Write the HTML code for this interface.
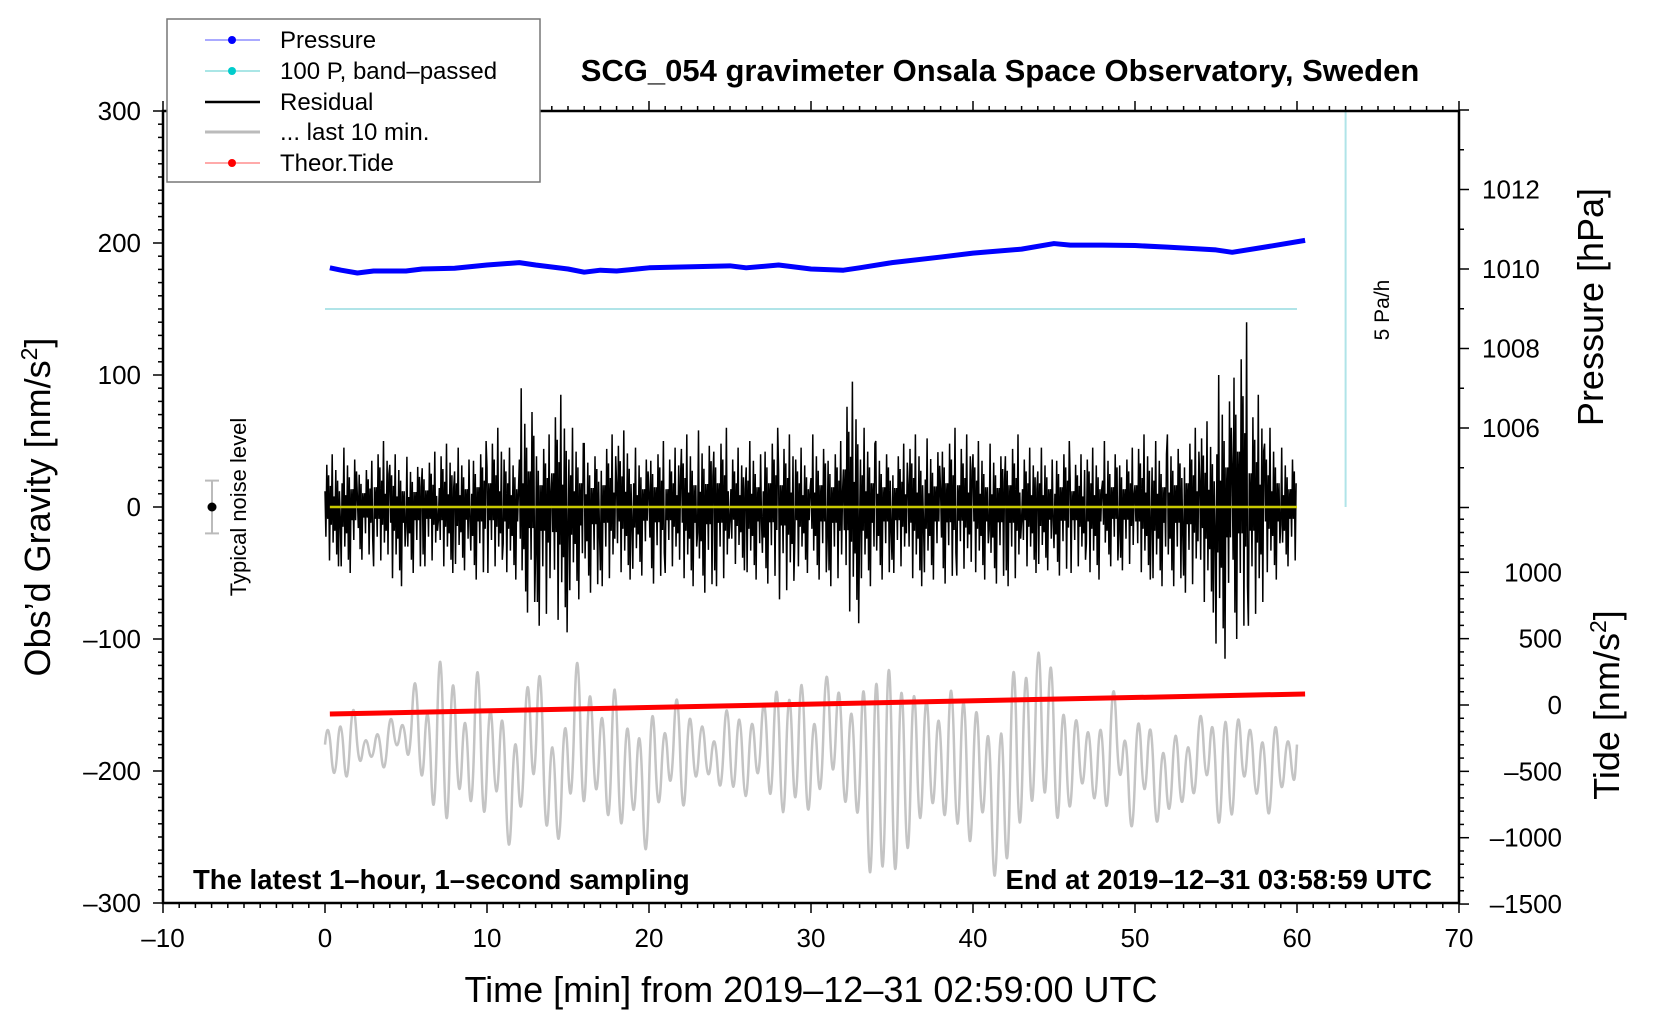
<!DOCTYPE html>
<html><head><meta charset="utf-8">
<style>
html,body{margin:0;padding:0;background:#fff;}
svg{display:block;font-family:"Liberation Sans",sans-serif;}
</style></head>
<body>
<svg id="chart" width="1660" height="1020" viewBox="0 0 1660 1020" xmlns="http://www.w3.org/2000/svg">
<defs><clipPath id="plotclip"><rect x="163" y="111" width="1296" height="792"/></clipPath></defs>
<g id="layer-data" clip-path="url(#plotclip)"></g>
<g id="layer-axes"></g>
<text x="1000" y="81" font-size="31" font-weight="bold" text-anchor="middle">SCG_054 gravimeter Onsala Space Observatory, Sweden</text>
<text x="193" y="889" font-size="27.5" font-weight="bold">The latest 1–hour, 1–second sampling</text>
<text x="1432" y="889" font-size="27.5" font-weight="bold" text-anchor="end">End at 2019–12–31 03:58:59 UTC</text>
<text x="811" y="1002" font-size="36" text-anchor="middle">Time [min] from 2019–12–31 02:59:00 UTC</text>
<text transform="translate(50,507) rotate(-90)" font-size="36" text-anchor="middle">Obs’d Gravity [nm/s<tspan dy="-13" font-size="23">2</tspan><tspan dy="13">]</tspan></text>
<text transform="translate(1603,307) rotate(-90)" font-size="36" text-anchor="middle">Pressure [hPa]</text>
<text transform="translate(1619,705) rotate(-90)" font-size="36" text-anchor="middle">Tide [nm/s<tspan dy="-13" font-size="23">2</tspan><tspan dy="13">]</tspan></text>
<text transform="translate(246,507) rotate(-90)" font-size="22" text-anchor="middle">Typical noise level</text>
<text transform="translate(1389,310) rotate(-90)" font-size="21" text-anchor="middle">5 Pa/h</text>
<g>
<rect x="167" y="19" width="373" height="163" fill="#fff" stroke="#777" stroke-width="1.5"/>
<g><line x1="205" y1="40" x2="260" y2="40" stroke="#55f" stroke-width="1"/><circle cx="232" cy="40" r="4" fill="#00f"/><text x="280" y="48" font-size="24">Pressure</text></g>
<g><line x1="205" y1="71" x2="260" y2="71" stroke="#5cc" stroke-width="1"/><circle cx="232" cy="71" r="4" fill="#0cc"/><text x="280" y="79" font-size="24">100 P, band–passed</text></g>
<g><line x1="205" y1="102" x2="260" y2="102" stroke="#000" stroke-width="2.5"/><text x="280" y="110" font-size="24">Residual</text></g>
<g><line x1="205" y1="132" x2="260" y2="132" stroke="#bbb" stroke-width="3"/><text x="280" y="140" font-size="24">... last 10 min.</text></g>
<g><line x1="205" y1="163" x2="260" y2="163" stroke="#f55" stroke-width="1"/><circle cx="232" cy="163" r="4" fill="#f00"/><text x="280" y="171" font-size="24">Theor.Tide</text></g>
</g>
</svg>
<script>
// ---- data ----
const pressureMinutes=[0,1,2,3,5,6,8,10,12,13,15,16,17,18,20,22,25,26,28,30,32,33,35,38,40,43,45,46,48,50,52,55,56,58,60.5];
const pressureHPa=[1010.03,1009.97,1009.9,1009.95,1009.95,1010.0,1010.02,1010.1,1010.16,1010.1,1010.0,1009.92,1009.97,1009.95,1010.03,1010.05,1010.08,1010.03,1010.1,1010.0,1009.97,1010.03,1010.16,1010.3,1010.4,1010.5,1010.64,1010.6,1010.6,1010.59,1010.55,1010.48,1010.42,1010.55,1010.72];
const tideMinutes=[0.3,60.5];
const tideValues=[-68,83];
const residualHi=[40,45,35,50,40,38,42,48,45,50,60,45,90,55,85,60,48,55,58,45,50,45,55,58,60,45,50,60,55,45,55,50,95,60,50,48,55,52,60,55,50,48,55,45,45,50,40,45,50,45,55,50,55,60,65,100,140,85,60,45];
const residualLo=[-45,-50,-40,-45,-60,-50,-45,-50,-48,-55,-50,-55,-80,-90,-95,-70,-65,-60,-55,-52,-58,-50,-60,-65,-60,-48,-55,-58,-70,-50,-55,-60,-88,-60,-55,-50,-60,-55,-58,-52,-55,-58,-60,-50,-48,-52,-50,-55,-45,-48,-55,-60,-60,-65,-80,-115,-100,-90,-55,-45];
const greyHi=[-155,-148,-134,-169,-162,-148,-155,-106,-127,-64,-92,-134,-78,-120,-127,-148,-99,-85,-148,-134,-71,-106,-127,-92,-134,-141,-120,-148,-113,-134,-148,-162,-127,-134,-141,-120,-99,-106,-92,-134,-92,-106,-120,-85,-64,-50,-78,-92,-106,-127,-92,-99,-113,-134,-120,-64,-78,-57,-71,-120,-134,-148,-141,-106,-155,-134,-141,-162,-148,-162,-134,-141,-127,-134,-148,-155,-141,-162];
const greyLo=[-218,-225,-204,-197,-211,-190,-204,-232,-267,-288,-246,-260,-274,-246,-295,-260,-239,-281,-288,-253,-267,-246,-274,-281,-260,-302,-253,-232,-260,-225,-218,-232,-239,-246,-225,-253,-274,-260,-267,-246,-232,-260,-274,-344,-344,-344,-316,-281,-260,-274,-288,-302,-267,-330,-323,-295,-274,-267,-281,-260,-232,-246,-260,-225,-274,-239,-267,-253,-246,-239,-225,-274,-267,-225,-239,-260,-232,-218];
const xTicks=[-10,0,10,20,30,40,50,60,70];
const yTicks=[-300,-200,-100,0,100,200,300];
const pTicks=[1006,1008,1010,1012];
const tTicks=[-1500,-1000,-500,0,500,1000];
// ---- scales ----
const X=t=>163+(t+10)*16.2;
const Y=g=>507-g*1.32;
const YP=p=>269-(p-1010)*39.75;
const YT=v=>705-v*0.1327;
const NS='http://www.w3.org/2000/svg';
const dataL=document.getElementById('layer-data');
const axL=document.getElementById('layer-axes');
function mk(tag,attrs,parent){const e=document.createElementNS(NS,tag);for(const k in attrs)e.setAttribute(k,attrs[k]);parent.appendChild(e);return e;}

let cyan=mk('line',{x1:X(0),y1:Y(150),x2:X(60),y2:Y(150),stroke:'#b0e4e8','stroke-width':2},dataL);


let vcy=mk('line',{x1:X(63),y1:111,x2:X(63),y2:Y(0),stroke:'#b0e4e8','stroke-width':2},dataL);



const per=60/greyHi.length;
let pts=[[X(0),Y(-180)]];
for(let i=0;i<greyHi.length;i++){pts.push([X((i+0.25)*per),Y(greyHi[i])]);pts.push([X((i+0.75)*per),Y(greyLo[i])]);}
pts.push([X(60),Y(-180)]);
let d='M'+pts[0][0]+','+pts[0][1];
for(let i=1;i<pts.length-1;i++){const mx=(pts[i][0]+pts[i+1][0])/2,my=(pts[i][1]+pts[i+1][1])/2;d+=' Q'+pts[i][0]+','+pts[i][1]+' '+mx+','+my;}
d+=' L'+pts[pts.length-1][0]+','+pts[pts.length-1][1];
let grey=mk('path',{d:d,fill:'none',stroke:'#c4c4c4','stroke-width':2.5},dataL);



const pat=[0.3,-0.5,0.8,-0.2,0.6,-0.9,0.4,-0.3,1,-0.6,0.2,-0.4,0.7,-0.8,0.5,-1,0.3,-0.2];
let rp=[];
for(let m=0;m<residualHi.length;m++){for(let k=0;k<pat.length;k++){const f=pat[(k+m*5)%pat.length];const v=f>0?residualHi[m]*f:residualLo[m]*(-f);rp.push(X(m+k/pat.length).toFixed(1)+','+Y(v).toFixed(1));}}
let res=mk('polyline',{points:rp.join(' '),fill:'none',stroke:'#000','stroke-width':1.5},dataL);


let yel=mk('line',{x1:X(0.3),y1:Y(0),x2:X(60),y2:Y(0),stroke:'#c8c800','stroke-width':2.5},dataL);



let pp=pressureMinutes.map((t,i)=>X(Math.max(t,0.3))+','+YP(pressureHPa[i])).join(' ');
let pl=mk('polyline',{points:pp,fill:'none',stroke:'#0000ff','stroke-width':5,'stroke-linejoin':'round'},dataL);



let tl=mk('line',{x1:X(tideMinutes[0]),y1:YT(tideValues[0]),x2:X(tideMinutes[1]),y2:YT(tideValues[1]),stroke:'#ff0000','stroke-width':5},dataL);



let nb=mk('g',{},axL);


mk('line',{x1:212,y1:Y(20),x2:212,y2:Y(-20),stroke:'#bbb','stroke-width':2},nb);
mk('line',{x1:205,y1:Y(20),x2:219,y2:Y(20),stroke:'#bbb','stroke-width':2},nb);
mk('line',{x1:205,y1:Y(-20),x2:219,y2:Y(-20),stroke:'#bbb','stroke-width':2},nb);
mk('circle',{cx:212,cy:Y(0),r:4.5,fill:'#000'},nb);

let fr=mk('rect',{x:163,y:111,width:1296,height:792,fill:'none',stroke:'#000','stroke-width':2.5},axL);


for(let t=-10;t<=70;t++){const maj=t%10===0;mk('line',{x1:X(t),y1:903,x2:X(t),y2:903+(maj?10:5),stroke:'#000','stroke-width':1.5},axL);mk('line',{x1:X(t),y1:111,x2:X(t),y2:111-(maj?10:5),stroke:'#000','stroke-width':1.5},axL);}
xTicks.forEach(t=>{let e=mk('text',{x:X(t),y:947,'font-size':26,'text-anchor':'middle'},axL);e.textContent=(t<0?'–'+(-t):t);

});
for(let g=-300;g<=300;g+=10){const maj=g%100===0;mk('line',{x1:163,y1:Y(g),x2:163-(maj?10:5),y2:Y(g),stroke:'#000','stroke-width':1.5},axL);}
yTicks.forEach(g=>{let e=mk('text',{x:141,y:Y(g)+9,'font-size':26,'text-anchor':'end'},axL);e.textContent=(g<0?'–'+(-g):g);

});
for(let p=1004;p<=1014;p++){const maj=p%2===0;mk('line',{x1:1459,y1:YP(p),x2:1459+(maj?10:5),y2:YP(p),stroke:'#000','stroke-width':1.5},axL);}
pTicks.forEach(p=>{let e=mk('text',{x:1482,y:YP(p)+9,'font-size':26},axL);e.textContent=p;

});
for(let v=-1500;v<=1400;v+=100){const maj=v%500===0;mk('line',{x1:1459,y1:YT(v),x2:1459+(maj?10:5),y2:YT(v),stroke:'#000','stroke-width':1.5},axL);}
tTicks.forEach(v=>{let e=mk('text',{x:1562,y:YT(v)+9,'font-size':26,'text-anchor':'end'},axL);e.textContent=(v<0?'–'+(-v):v);

});
</script>
</body></html>
